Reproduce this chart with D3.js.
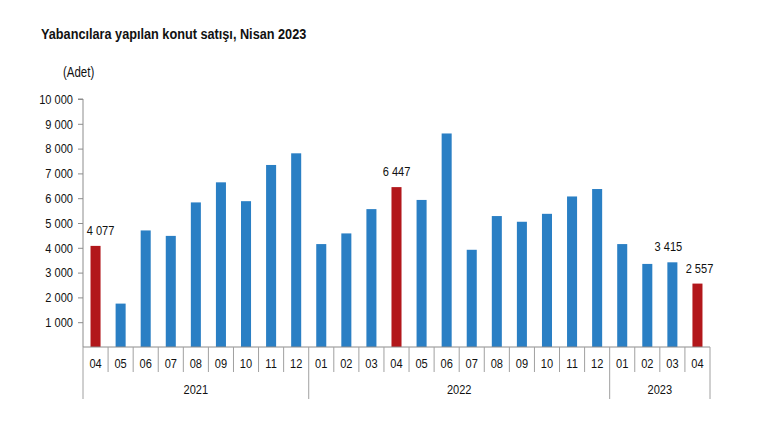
<!DOCTYPE html>
<html>
<head>
<meta charset="utf-8">
<script src="https://cdn.jsdelivr.net/npm/d3@7"></script>
<style>
  body { margin: 0; background: #fff; }
  svg text { font-family: "Liberation Sans", Arial, sans-serif; fill: #111; }
</style>
</head>
<body>
<div id="chart"></div>
<script>
// Données : ventes mensuelles, avril 2021 - avril 2023
const months = ["04", "05", "06", "07", "08", "09", "10", "11", "12",
                "01", "02", "03", "04", "05", "06", "07", "08", "09", "10", "11", "12",
                "01", "02", "03", "04"];
const years = ["2021", "2021", "2021", "2021", "2021", "2021", "2021", "2021", "2021",
               "2022", "2022", "2022", "2022", "2022", "2022", "2022", "2022", "2022", "2022", "2022", "2022",
               "2023", "2023", "2023", "2023"];
const values = [4077, 1750, 4700, 4480, 5830, 6640, 5880, 7340, 7810,
                4150, 4580, 5560, 6447, 5930, 8610, 3920, 5280, 5050, 5370, 6070, 6370,
                4150, 3350, 3415, 2557];
const highlighted = [0, 12, 24];      // mois d'avril en rouge
const labelled = [0, 12, 23, 24];     // barres avec étiquette
const yTicks = [1000, 2000, 3000, 4000, 5000, 6000, 7000, 8000, 9000, 10000];
const yearNames = ["2021", "2022", "2023"];

const width = 760, height = 430;
const x0 = 83, x1 = 710, yBase = 347, yTop = 99;
const narrowK = 0.82; // imitation d'Arial Narrow

const fmt = d3.formatLocale({ decimal: ",", thousands: " ", grouping: [3], currency: ["", ""] }).format(",d");

const data = months.map((m, i) => ({ key: i, month: m, year: years[i], value: values[i] }));

// Compression horizontale du texte (pas de police étroite installée)
function narrow(sel) {
    sel.each(function () {
        const t = d3.select(this);
        const x = +t.attr("x") || 0, y = +t.attr("y") || 0;
        t.attr("x", 0).attr("y", 0)
            .attr("transform", `translate(${x},${y}) scale(${narrowK},1)`);
    });
}

const svg = d3.select("#chart").append("svg")
    .attr("width", width)
    .attr("height", height);

// Échelles
const xScale = d3.scaleBand()
    .domain(data.map(d => d.key))
    .range([x0, x1])
    .paddingInner(0.6)
    .paddingOuter(0.3);

const yScale = d3.scaleLinear()
    .domain([0, 10000])
    .range([yBase, yTop]);

// Titre
svg.append("text")
    .attr("x", 41)
    .attr("y", 39)
    .style("font-size", "15.5px")
    .style("font-weight", "bold")
    .text("Yabancılara yapılan konut satışı, Nisan 2023")
    .call(narrow);

svg.append("text")
    .attr("x", 63)
    .attr("y", 77)
    .style("font-size", "14px")
    .text("(Adet)")
    .call(narrow);

// Axe Y
const yAxis = svg.append("g")
    .attr("transform", `translate(${x0},0)`)
    .call(d3.axisLeft(yScale).tickValues(yTicks).tickSize(5).tickPadding(5).tickFormat(fmt));
yAxis.selectAll("path, line").attr("stroke", "#8c8c8c");
yAxis.select(".domain").attr("d", `M-5,${yTop}H0V${yBase}`);
yAxis.selectAll("text")
    .style("font-size", "13.5px")
    .style("font-family", "'Liberation Sans', Arial, sans-serif")
    .attr("fill", "#111")
    .call(narrow);

// Barres
svg.selectAll("rect.bar")
    .data(data)
    .enter()
    .append("rect")
    .attr("class", "bar")
    .attr("x", d => xScale(d.key))
    .attr("width", xScale.bandwidth())
    .attr("y", d => yScale(d.value))
    .attr("height", d => yScale(0) - yScale(d.value))
    .attr("fill", d => highlighted.includes(d.key) ? "#b2171b" : "#2a7fc4");

// Étiquettes de valeurs
const labelShift = { 0: 5, 12: 0, 23: -4, 24: 2 };
svg.selectAll("text.val")
    .data(data.filter(d => labelled.includes(d.key)))
    .enter()
    .append("text")
    .attr("class", "val")
    .attr("x", d => xScale(d.key) + xScale.bandwidth() / 2 + labelShift[d.key])
    .attr("y", d => yScale(d.value) - 11)
    .attr("text-anchor", "middle")
    .style("font-size", "13.5px")
    .text(d => fmt(d.value))
    .call(narrow);

// Axe X : ligne de base
const step = xScale.step();
svg.append("line")
    .attr("x1", x0).attr("x2", x1)
    .attr("y1", yBase).attr("y2", yBase)
    .attr("stroke", "#8c8c8c");

// Séparateurs des mois et des années
const bounds = d3.range(data.length + 1).map(i => ({
    x: x0 + i * step,
    isYear: i === 0 || i === data.length || years[i] !== years[i - 1]
}));

svg.selectAll("line.sep")
    .data(bounds)
    .enter()
    .append("line")
    .attr("class", "sep")
    .attr("x1", d => d.x).attr("x2", d => d.x)
    .attr("y1", yBase)
    .attr("y2", d => d.isYear ? 399 : 372)
    .attr("stroke", "#a0a0a0");

// Libellés des mois
svg.selectAll("text.month")
    .data(data)
    .enter()
    .append("text")
    .attr("class", "month")
    .attr("x", d => xScale(d.key) + xScale.bandwidth() / 2)
    .attr("y", 368)
    .attr("text-anchor", "middle")
    .style("font-size", "13.5px")
    .text(d => d.month)
    .call(narrow);

// Libellés des années
svg.selectAll("text.year")
    .data(yearNames)
    .enter()
    .append("text")
    .attr("class", "year")
    .attr("x", y => {
        const idx = data.filter(d => d.year === y).map(d => d.key);
        return x0 + (d3.min(idx) + d3.max(idx) + 1) / 2 * step;
    })
    .attr("y", 394)
    .attr("text-anchor", "middle")
    .style("font-size", "13.5px")
    .text(y => y)
    .call(narrow);
</script>
</body>
</html>
